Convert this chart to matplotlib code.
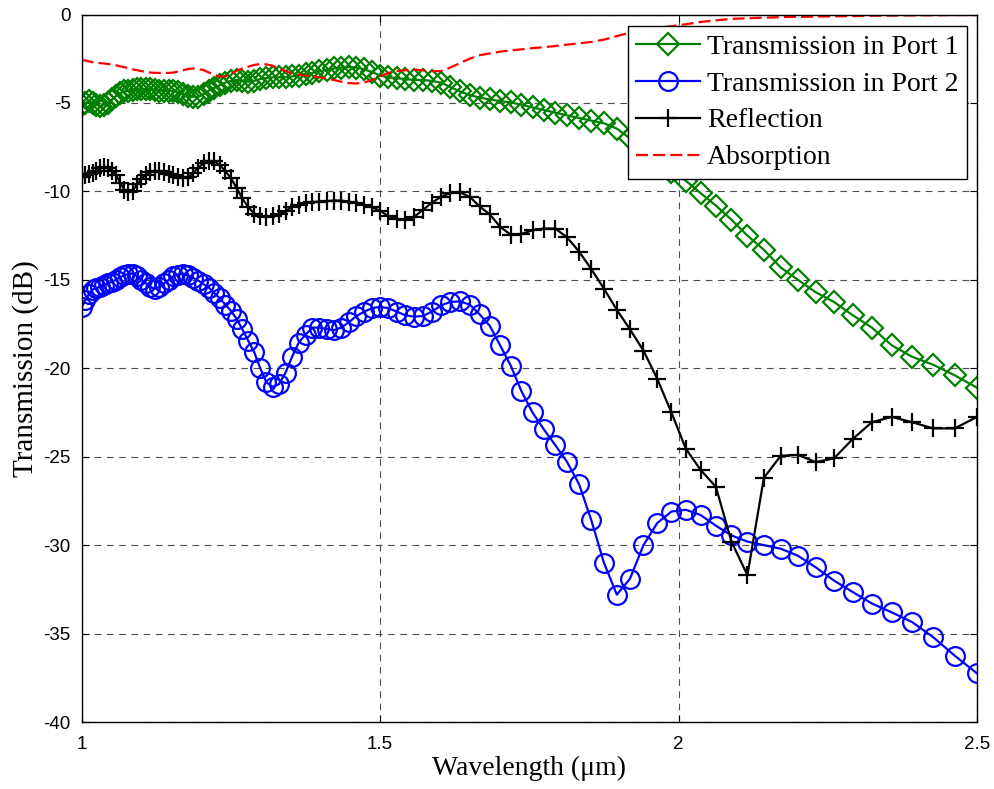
import matplotlib
matplotlib.use("Agg")
import matplotlib.pyplot as plt

# sample wavelengths (um), shared by all four curves
wavelength = [
    1.0000, 1.0061, 1.0123, 1.0185, 1.0248, 1.0313, 1.0377, 1.0443, 1.0510, 1.0577,
    1.0645, 1.0714, 1.0784, 1.0855, 1.0927, 1.1000, 1.1074, 1.1149, 1.1224, 1.1301,
    1.1379, 1.1458, 1.1538, 1.1620, 1.1702, 1.1786, 1.1871, 1.1957, 1.2044, 1.2132,
    1.2222, 1.2313, 1.2406, 1.2500, 1.2595, 1.2692, 1.2791, 1.2891, 1.2992, 1.3095,
    1.3200, 1.3306, 1.3415, 1.3525, 1.3636, 1.3750, 1.3866, 1.3983, 1.4103, 1.4224,
    1.4348, 1.4474, 1.4602, 1.4732, 1.4865, 1.5000, 1.5138, 1.5278, 1.5421, 1.5566,
    1.5714, 1.5865, 1.6019, 1.6176, 1.6337, 1.6500, 1.6667, 1.6837, 1.7010, 1.7188,
    1.7368, 1.7553, 1.7742, 1.7935, 1.8132, 1.8333, 1.8539, 1.8750, 1.8966, 1.9186,
    1.9412, 1.9643, 1.9880, 2.0122, 2.0370, 2.0625, 2.0886, 2.1154, 2.1429, 2.1711,
    2.2000, 2.2297, 2.2603, 2.2917, 2.3239, 2.3571, 2.3913, 2.4265, 2.4627, 2.5000,
]

port1_db = [
    -5.10, -5.00, -4.90, -5.00, -5.10, -5.20, -5.10, -5.00, -4.80, -4.60,
    -4.45, -4.35, -4.30, -4.25, -4.20, -4.20, -4.20, -4.20, -4.25, -4.30,
    -4.30, -4.30, -4.35, -4.40, -4.50, -4.60, -4.65, -4.65, -4.50, -4.30,
    -4.15, -4.00, -3.85, -3.75, -3.70, -3.75, -3.80, -3.75, -3.65, -3.60,
    -3.55, -3.55, -3.55, -3.50, -3.45, -3.35, -3.30, -3.20, -3.15, -3.05,
    -3.00, -2.97, -3.00, -3.10, -3.25, -3.45, -3.55, -3.60, -3.65, -3.70,
    -3.70, -3.75, -3.85, -4.10, -4.35, -4.55, -4.70, -4.80, -4.90, -4.97,
    -5.10, -5.25, -5.40, -5.55, -5.70, -5.85, -6.00, -6.15, -6.45, -7.00,
    -7.60, -8.30, -8.90, -9.40, -10.10, -10.80, -11.60, -12.50, -13.30, -14.30,
    -15.00, -15.70, -16.25, -17.00, -17.70, -18.70, -19.35, -19.80, -20.40, -21.10,
]

port2_db = [
    -16.55, -16.15, -15.80, -15.55, -15.45, -15.40, -15.30, -15.20, -15.10, -15.00,
    -14.85, -14.75, -14.65, -14.65, -14.80, -15.00, -15.20, -15.40, -15.50, -15.40,
    -15.20, -15.00, -14.80, -14.70, -14.65, -14.75, -14.90, -15.05, -15.25, -15.45,
    -15.75, -16.05, -16.40, -16.75, -17.20, -17.80, -18.45, -19.10, -20.00, -20.80,
    -21.05, -20.90, -20.25, -19.35, -18.55, -18.10, -17.70, -17.70, -17.78, -17.85,
    -17.70, -17.40, -17.05, -16.80, -16.60, -16.53, -16.60, -16.80, -17.00, -17.08,
    -17.05, -16.80, -16.45, -16.25, -16.22, -16.40, -16.95, -17.60, -18.70, -19.85,
    -21.30, -22.50, -23.45, -24.35, -25.30, -26.55, -28.60, -31.00, -32.80, -31.90,
    -30.00, -28.75, -28.10, -28.00, -28.30, -28.90, -29.45, -29.80, -30.00, -30.20,
    -30.60, -31.25, -32.00, -32.65, -33.30, -33.80, -34.35, -35.20, -36.25, -37.25,
]

reflection_db = [
    -9.20, -9.10, -9.00, -8.95, -8.85, -8.70, -8.60, -8.65, -8.85, -9.10,
    -9.50, -9.90, -10.05, -9.95, -9.60, -9.30, -9.05, -8.90, -8.85, -8.85,
    -8.90, -9.00, -9.10, -9.20, -9.25, -9.20, -8.95, -8.65, -8.40, -8.30,
    -8.30, -8.50, -8.85, -9.25, -9.80, -10.40, -10.90, -11.25, -11.40, -11.45,
    -11.40, -11.30, -11.10, -10.90, -10.75, -10.65, -10.60, -10.58, -10.55, -10.52,
    -10.52, -10.58, -10.65, -10.75, -10.90, -11.10, -11.40, -11.55, -11.60, -11.45,
    -11.05, -10.65, -10.30, -10.10, -10.05, -10.30, -10.85, -11.30, -12.00, -12.45,
    -12.40, -12.20, -12.10, -12.10, -12.60, -13.40, -14.40, -15.50, -16.70, -17.80,
    -19.00, -20.60, -22.50, -24.55, -25.75, -26.70, -29.80, -31.70, -26.20, -24.95,
    -24.90, -25.30, -25.10, -24.00, -23.05, -22.75, -23.05, -23.40, -23.40, -22.75,
]

absorption_db = [
    -2.57, -2.60, -2.65, -2.70, -2.72, -2.75, -2.77, -2.80, -2.83, -2.87,
    -2.93, -2.98, -3.03, -3.10, -3.15, -3.20, -3.25, -3.28, -3.30, -3.30,
    -3.30, -3.30, -3.28, -3.22, -3.15, -3.08, -3.05, -3.08, -3.15, -3.28,
    -3.40, -3.52, -3.50, -3.35, -3.18, -3.05, -2.95, -2.85, -2.80, -2.82,
    -2.90, -3.05, -3.20, -3.33, -3.40, -3.45, -3.50, -3.55, -3.62, -3.70,
    -3.80, -3.88, -3.90, -3.85, -3.70, -3.50, -3.30, -3.20, -3.15, -3.12,
    -3.15, -3.20, -3.20, -3.00, -2.75, -2.50, -2.30, -2.20, -2.10, -2.03,
    -1.97, -1.90, -1.85, -1.78, -1.70, -1.63, -1.55, -1.42, -1.22, -1.02,
    -0.85, -0.75, -0.66, -0.55, -0.42, -0.33, -0.25, -0.21, -0.18, -0.15,
    -0.13, -0.12, -0.10, -0.09, -0.07, -0.06, -0.05, -0.04, -0.03, -0.03,
]

x_ticks = [1, 1.5, 2, 2.5]
x_tick_labels = ["1", "1.5", "2", "2.5"]
y_ticks = [0, -5, -10, -15, -20, -25, -30, -35, -40]
y_tick_labels = ["0", "-5", "-10", "-15", "-20", "-25", "-30", "-35", "-40"]

SERIF = ["Liberation Serif", "DejaVu Serif"]
SANS = ["Liberation Sans", "DejaVu Sans"]


def main():
    fig = plt.figure(figsize=(9.95, 7.89), dpi=100)
    ax = fig.add_axes([0.0821, 0.0849, 0.8998, 0.8967])

    ax.plot(wavelength, port1_db, color="#008000", linewidth=1.6, marker="D",
            markersize=11, markerfacecolor="none", markeredgewidth=1.6,
            label="Transmission in Port 1")
    ax.plot(wavelength, port2_db, color="#0000ff", linewidth=1.6, marker="o",
            markersize=13.5, markerfacecolor="none", markeredgewidth=1.6,
            label="Transmission in Port 2")
    ax.plot(wavelength, reflection_db, color="black", linewidth=1.6, marker="+",
            markersize=13, markeredgewidth=1.6, label="Reflection")
    ax.plot(wavelength, absorption_db, color="#ff0000", linewidth=1.6,
            linestyle=(0, (5.4, 2.3)), label="Absorption")

    ax.set_xlim(1, 2.5)
    ax.set_ylim(-40, 0)
    ax.set_xticks(x_ticks)
    ax.set_xticklabels(x_tick_labels, fontfamily=SANS, fontsize=13.5)
    ax.set_yticks(y_ticks)
    ax.set_yticklabels(y_tick_labels, fontfamily=SANS, fontsize=13.5)
    ax.tick_params(direction="in", top=True, right=True, length=5, width=0.8)
    ax.tick_params(axis="x", pad=10)
    ax.tick_params(axis="y", pad=8)

    ax.grid(True, color="0.3", linestyle=(0, (6, 5)), linewidth=0.8)
    ax.set_axisbelow(True)
    for sp in ax.spines.values():
        sp.set_linewidth(1.0)

    ax.set_xlabel("Wavelength (\u03bcm)", fontfamily=SERIF, fontsize=20, labelpad=2)
    ax.set_ylabel("Transmission (dB)", fontfamily=SERIF, fontsize=21, labelpad=3)

    leg = ax.legend(loc="upper right", prop={"family": SERIF, "size": 20},
                    handlelength=2.3, handletextpad=0.25, labelspacing=0.41,
                    borderpad=0.3, borderaxespad=0.0, fancybox=False,
                    framealpha=1, edgecolor="black",
                    bbox_to_anchor=(0.9889, 0.9837))
    leg.get_frame().set_linewidth(1.0)

    fig.savefig("out.png", dpi=100)
    plt.close(fig)


if __name__ == "__main__":
    main()
